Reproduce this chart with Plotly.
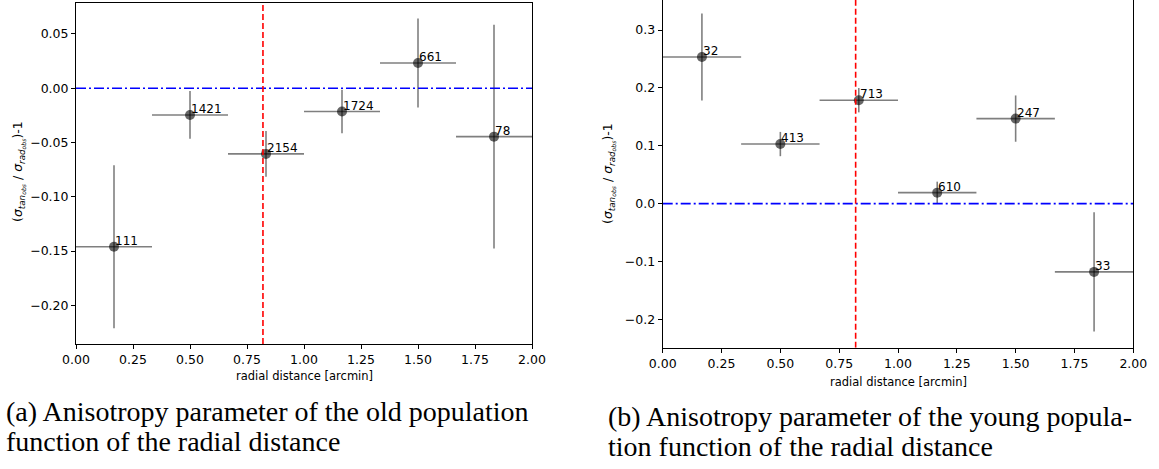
import plotly.graph_objects as go

# ---- data ----
x_bins = [1/6, 0.5, 5/6, 7/6, 1.5, 11/6]
x_halfwidth = [1/6, 1/6, 1/6, 1/6, 1/6, 1/6]

old_y = [-0.146, -0.0246, -0.0605, -0.0215, 0.0233, -0.0446]
old_err = [0.075, 0.022, 0.021, 0.020, 0.041, 0.103]
old_n = ["111", "1421", "2154", "1724", "661", "78"]

young_y = [0.2535, 0.103, 0.1788, 0.019, 0.147, -0.118]
young_err = [0.075, 0.021, 0.021, 0.019, 0.040, 0.103]
young_n = ["32", "413", "713", "610", "247", "33"]

r_ref = 0.82
x_ticks = [0, 0.25, 0.5, 0.75, 1.0, 1.25, 1.5, 1.75, 2.0]
old_yticks = [-0.20, -0.15, -0.10, -0.05, 0.00, 0.05]
young_yticks = [-0.2, -0.1, 0.0, 0.1, 0.2, 0.3]

captions = [
    ["(a) Anisotropy parameter of the old population",
     "function of the radial distance"],
    ["(b) Anisotropy parameter of the young popula-",
     "tion function of the radial distance"],
]

W, H = 1159, 469
TICKFONT = dict(family="DejaVu Sans", size=12.5, color="black")
GREY = "rgba(0,0,0,0.5)"

fig = go.Figure()

def px_x(p):
    return p / W

def px_y(p):
    return 1 - p / H

panels = [
    dict(xa="x", ya="y", y=old_y, err=old_err, n=old_n,
         dom_x=[px_x(76), px_x(532)], dom_y=[px_y(344), px_y(3)],
         yrange=[-0.2356, 0.0785], yticks=old_yticks, yfmt=".2f"),
    dict(xa="x2", ya="y2", y=young_y, err=young_err, n=young_n,
         dom_x=[px_x(662.7), px_x(1133.3)], dom_y=[px_y(347.7), px_y(0)],
         yrange=[-0.249, 0.352], yticks=young_yticks, yfmt=".1f"),
]

for i, p in enumerate(panels):
    fig.add_trace(go.Scatter(
        x=x_bins, y=p["y"], xaxis=p["xa"], yaxis=p["ya"], mode="markers",
        marker=dict(size=10, color="rgba(0,0,0,0.6)", line=dict(width=0)),
        error_x=dict(type="data", array=x_halfwidth, color=GREY, thickness=1.6, width=0),
        error_y=dict(type="data", array=p["err"], color=GREY, thickness=1.6, width=0),
        showlegend=False, hoverinfo="skip",
    ))
    fig.add_trace(go.Scatter(
        x=[0, 2], y=[0, 0], xaxis=p["xa"], yaxis=p["ya"], mode="lines",
        line=dict(color="blue", width=1.6, dash="10px,3px,2px,3px"),
        showlegend=False, hoverinfo="skip",
    ))
    fig.add_trace(go.Scatter(
        x=[r_ref, r_ref], y=p["yrange"], xaxis=p["xa"], yaxis=p["ya"], mode="lines",
        line=dict(color="red", width=1.6, dash="6px,3px"),
        showlegend=False, hoverinfo="skip",
    ))
    for xv, yv, lab in zip(x_bins, p["y"], p["n"]):
        fig.add_annotation(
            x=xv, y=yv, xref=p["xa"], yref=p["ya"], text=lab, showarrow=False,
            xanchor="left", yanchor="bottom", yshift=-3, xshift=-1,
            font=dict(family="DejaVu Sans", size=12, color="black"),
        )
    axis_common = dict(showline=True, mirror=True, linecolor="black", linewidth=1,
                       ticks="outside", ticklen=4, tickcolor="black", tickwidth=1,
                       showgrid=False, zeroline=False, tickfont=TICKFONT,
                       automargin=False)
    xkey = "xaxis" if i == 0 else "xaxis2"
    ykey = "yaxis" if i == 0 else "yaxis2"
    fig.update_layout(**{
        xkey: dict(domain=p["dom_x"], range=[0, 2], tickvals=x_ticks, tickformat=".2f",
                   anchor=p["ya"], **axis_common),
        ykey: dict(domain=p["dom_y"], range=p["yrange"], tickvals=p["yticks"],
                   tickformat=p["yfmt"], anchor=p["xa"], **axis_common),
    })

# axis titles
ylabel = "(<i>σ</i><sub><i>tan<sub>obs</sub></i></sub> / <i>σ</i><sub><i>rad<sub>obs</sub></i></sub>)-1"
for cx, cy in [(304, 376), (898, 382)]:
    fig.add_annotation(x=px_x(cx), y=px_y(cy), xref="paper", yref="paper",
                       text="radial distance [arcmin]", showarrow=False,
                       xanchor="center", yanchor="middle",
                       font=dict(family="DejaVu Sans", size=11.5, color="black"))
for cx, cy in [(18, 172), (608, 174)]:
    fig.add_annotation(x=px_x(cx), y=px_y(cy), xref="paper", yref="paper",
                       text=ylabel, showarrow=False, textangle=-90,
                       xanchor="center", yanchor="middle",
                       font=dict(family="DejaVu Sans", size=12.5, color="black"))

# captions (one annotation per line)
for cx, cys, lines in [(5, (411, 441), captions[0]), (607, (416, 446), captions[1])]:
    for cy, txt in zip(cys, lines):
        fig.add_annotation(x=px_x(cx), y=px_y(cy), xref="paper", yref="paper",
                           text=txt, showarrow=False, xanchor="left", yanchor="middle",
                           borderpad=0,
                           font=dict(family="Liberation Serif", size=28, color="black"))

fig.update_layout(width=W, height=H, margin=dict(l=0, r=0, t=0, b=0, autoexpand=False),
                  plot_bgcolor="white", paper_bgcolor="white")

fig.write_html("out.html")
